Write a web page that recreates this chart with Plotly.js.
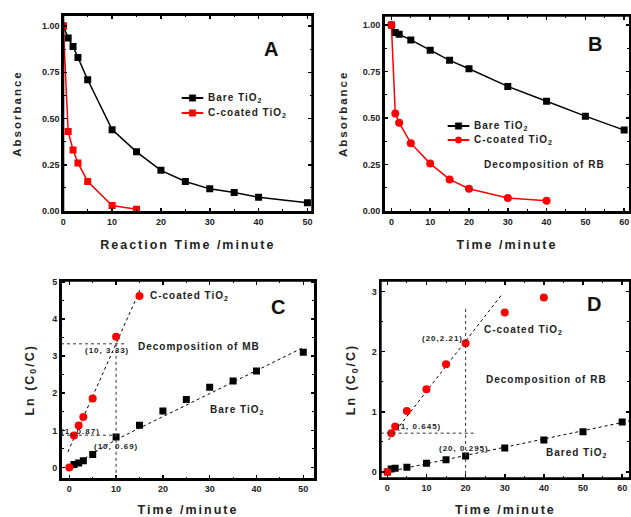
<!DOCTYPE html>
<html><head><meta charset="utf-8">
<script src="https://cdn.plot.ly/plotly-3.0.1.min.js"></script>
<style>
body{margin:0;background:#fff}
.xtitle,.ytitle,.x2title,.y2title,.x3title,.y3title,.x4title,.y4title{letter-spacing:2px}
.annotation-text{letter-spacing:1px}
</style>
</head><body>
<div id="c" style="width:631px;height:517px"></div>
<script>
// Panel A
const aBareX=[0,1,2,3,5,10,15,20,25,30,35,40,50];
const aBareY=[1.00,0.935,0.89,0.83,0.71,0.44,0.32,0.22,0.16,0.12,0.10,0.075,0.045];
const aCX=[0,1,2,3,5,10,15];
const aCY=[1.00,0.43,0.33,0.26,0.16,0.03,0.01];
// Panel B
const bBareX=[0,1,2,5,10,15,20,30,40,50,60];
const bBareY=[1.00,0.96,0.95,0.92,0.865,0.81,0.765,0.67,0.59,0.51,0.435];
const bCX=[0,1,2,5,10,15,20,30,40];
const bCY=[1.00,0.525,0.475,0.365,0.255,0.17,0.12,0.07,0.055];
// Panel C
const cCX=[0,1,2,3,5,10,15];
const cCY=[0,0.86,1.13,1.36,1.86,3.52,4.62];
const cBareX=[1,2,3,5,10,15,20,25,30,35,40,50];
const cBareY=[0.08,0.12,0.18,0.35,0.82,1.14,1.52,1.83,2.16,2.33,2.60,3.10];
const cFitCX=[-0.3,15.1], cFitCY=[0.42,4.78];
const cFitB1X=[0,10], cFitB1Y=[0,0.75];
const cFitB2X=[10,50], cFitB2Y=[0.75,3.23];
// Panel D
const dCX=[0,1,2,5,10,15,20,30,40];
const dCY=[0,0.645,0.755,1.015,1.375,1.79,2.14,2.65,2.90];
const dBareX=[0,1,2,5,10,15,20,30,40,50,60];
const dBareY=[0,0.05,0.06,0.08,0.145,0.205,0.265,0.40,0.53,0.67,0.83];
const dFitCX=[0.3,29.2], dFitCY=[0.53,2.945];
const dFitBX=[0,62], dFitBY=[0,0.85];
// legend labels
const seriesNames=['Bare TiO<sub>2</sub>','C-coated TiO<sub>2</sub>'];

const RED='#ff0000', BLK='#000000';
const F='Liberation Sans, Arial, sans-serif';
const sq={symbol:'square',size:7};
const ci={symbol:'circle',size:8};

const traces=[
 {x:aBareX,y:aBareY,xaxis:'x',yaxis:'y',mode:'lines+markers',line:{color:BLK,width:1.5},marker:Object.assign({color:BLK},sq),showlegend:false},
 {x:aCX,y:aCY,xaxis:'x',yaxis:'y',mode:'lines+markers',line:{color:RED,width:1.5},marker:Object.assign({color:RED},sq),showlegend:false},
 {x:bBareX,y:bBareY,xaxis:'x2',yaxis:'y2',mode:'lines+markers',line:{color:BLK,width:1.5},marker:Object.assign({color:BLK},sq),showlegend:false},
 {x:bCX,y:bCY,xaxis:'x2',yaxis:'y2',mode:'lines+markers',line:{color:RED,width:1.5},marker:Object.assign({color:RED},ci),showlegend:false},
 {x:cFitCX,y:cFitCY,xaxis:'x3',yaxis:'y3',mode:'lines',line:{color:BLK,width:1,dash:'dot'},showlegend:false},
 {x:cFitB1X,y:cFitB1Y,xaxis:'x3',yaxis:'y3',mode:'lines',line:{color:BLK,width:1,dash:'dot'},showlegend:false},
 {x:cFitB2X,y:cFitB2Y,xaxis:'x3',yaxis:'y3',mode:'lines',line:{color:BLK,width:1,dash:'dot'},showlegend:false},
 {x:cBareX,y:cBareY,xaxis:'x3',yaxis:'y3',mode:'markers',marker:Object.assign({color:BLK},sq),showlegend:false},
 {x:cCX,y:cCY,xaxis:'x3',yaxis:'y3',mode:'markers',marker:Object.assign({color:RED},ci),showlegend:false},
 {x:dFitCX,y:dFitCY,xaxis:'x4',yaxis:'y4',mode:'lines',line:{color:BLK,width:1,dash:'dot'},showlegend:false},
 {x:dFitBX,y:dFitBY,xaxis:'x4',yaxis:'y4',mode:'lines',line:{color:BLK,width:1,dash:'dot'},showlegend:false},
 {x:dBareX,y:dBareY,xaxis:'x4',yaxis:'y4',mode:'markers',marker:Object.assign({color:BLK},sq),showlegend:false},
 {x:dCX,y:dCY,xaxis:'x4',yaxis:'y4',mode:'markers',marker:Object.assign({color:RED},ci),showlegend:false}
];

function ax(anchor,dom,range,dtick,minorD,fmt,title,standoff,tsize){
 return {anchor:anchor,domain:dom,range:range,dtick:dtick,tick0:0,tickformat:fmt,showgrid:false,zeroline:false,
  showline:true,linewidth:2,linecolor:BLK,mirror:'ticks',ticks:'inside',ticklen:4,tickwidth:1.5,tickcolor:BLK,
  minor:{dtick:minorD,ticks:'inside',ticklen:2.5,tickwidth:1,tickcolor:BLK,showgrid:false},
  tickfont:{family:F,size:9,weight:'bold',color:'#222'},
  title:{text:title,font:{family:F,size:tsize||12.5,weight:'bold',color:'#222'},standoff:standoff}};
}
const sh=(xr,yr,x0,y0,x1,y1)=>({type:'line',xref:xr,yref:yr,x0:x0,y0:y0,x1:x1,y1:y1,line:{color:'#333',width:1,dash:'dot'}});
const an=(xr,yr,x,y,t,sz,anch,col)=>({xref:xr,yref:yr,x:x,y:y,text:t,showarrow:false,xanchor:anch||'left',font:{family:F,size:sz||10,weight:'bold',color:col||'#222'}});
const frame=(xr,yr)=>({type:'rect',xref:xr+' domain',yref:yr+' domain',x0:0,x1:1,y0:0,y1:1,line:{color:BLK,width:2},layer:'above'});
const PX=x=>x/631, PY=y=>1-y/517;
function legendItem(x0,x1,y,color,sym,label){
 const xm=(x0+x1)/2, s=3.2;
 const out={shapes:[{type:'line',xref:'paper',yref:'paper',x0:PX(x0),x1:PX(x1),y0:PY(y),y1:PY(y),line:{color:color,width:2}},
  {type:sym==='circle'?'circle':'rect',xref:'paper',yref:'paper',x0:PX(xm-s),x1:PX(xm+s),y0:PY(y+s),y1:PY(y-s),fillcolor:color,line:{color:color,width:0.5}}],
  ann:{xref:'paper',yref:'paper',x:PX(x1+2.5),y:PY(y),xanchor:'left',yanchor:'middle',text:label,showarrow:false,font:{family:F,size:10,weight:'bold',color:'#222'}}};
 return out;
}
const legs=[legendItem(181.7,203.3,98,BLK,'square',seriesNames[0]),legendItem(181.7,203.3,113,RED,'square',seriesNames[1]),
 legendItem(447.7,469.3,126,BLK,'square',seriesNames[0]),legendItem(447.7,469.3,140,RED,'circle',seriesNames[1])];

const layout={
 width:631,height:517,margin:{l:0,r:0,t:0,b:0},paper_bgcolor:'#fff',plot_bgcolor:'#fff',showlegend:false,
 xaxis:ax('y',[0.1003,0.4949],[0,51],10,5,'d','Reaction Time /minute',14,12.5),
 yaxis:ax('x',[0.590,0.971],[-0.005,1.06],0.25,0.125,'.2f','Absorbance',18,11.5),
 xaxis2:ax('y2',[0.6086,0.9984],[-1.9,61.5],10,5,'d','Time /minute',14),
 yaxis2:ax('x2',[0.590,0.9696],[-0.005,1.05],0.25,0.125,'.2f','Absorbance',13,11.5),
 xaxis3:ax('y3',[0.0967,0.4992],[-1.77,52.5],10,5,'d','Time /minute',14),
 yaxis3:ax('x3',[0.0735,0.4571],[-0.31,5.03],1,0.5,'d','Ln (C<sub>0</sub>/C)',15),
 xaxis4:ax('y4',[0.6033,0.9984],[-1.7,62],10,5,'d','Time /minute',14),
 yaxis4:ax('x4',[0.0749,0.4571],[-0.105,3.18],1,0.5,'d','Ln (C<sub>0</sub>/C)',13),
 shapes:[
  frame('x','y'),frame('x2','y2'),frame('x3','y3'),frame('x4','y4'),
  sh('x3','y3',-1.77,3.33,11.9,3.33),
  sh('x3','y3',10,3.33,10,-0.31),
  sh('x3','y3',-1.77,0.87,10,0.87),
  sh('x4','y4',-1.7,0.645,22.8,0.645),
  sh('x4','y4',20,2.71,20,-0.105)
 ].concat(...legs.map(l=>l.shapes)),
 annotations:[
  an('x','y',42.7,0.875,'A',20,'center','#111'),
  an('x2','y2',52.5,0.897,'B',20,'center','#111'),
  an('x2','y2',23.4,0.25,'Decomposition of RB',10),
  an('x3','y3',44.6,4.33,'C',20,'center','#111'),
  an('x3','y3',16.9,4.62,'C-coated TiO<sub>2</sub>',10),
  an('x3','y3',14.3,3.25,'Decomposition of MB',10),
  an('x3','y3',29.7,1.55,'Bare TiO<sub>2</sub>',10),
  an('x3','y3',8.0,3.14,'(10, 3.33)',8,'center'),
  an('x3','y3',2.3,0.96,'(1, 0.87)',8,'center'),
  an('x3','y3',10.0,0.57,'(10, 0.69)',8,'center'),
  an('x4','y4',53,2.8,'D',20,'center','#111'),
  an('x4','y4',24.1,2.36,'C-coated TiO<sub>2</sub>',10),
  an('x4','y4',24.7,1.54,'Decomposition of RB',10),
  an('x4','y4',40,0.32,'Bared TiO<sub>2</sub>',10),
  an('x4','y4',14.0,2.22,'(20,2.21)',8,'center'),
  an('x4','y4',8.05,0.754,'(1, 0.645)',8,'center'),
  an('x4','y4',19.6,0.394,'(20, 0.295)',8,'center')
 ].concat(legs.map(l=>l.ann))
};
Plotly.newPlot('c',traces,layout,{displayModeBar:false,staticPlot:true});
</script>
</body></html>
